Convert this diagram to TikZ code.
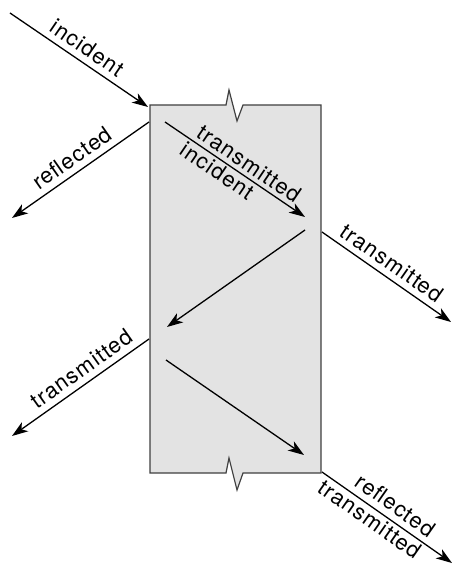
\documentclass[tikz,border=0pt]{standalone}
\usepackage{fontspec}
\setmainfont{TeX Gyre Heros}[LetterSpace=5]
\usetikzlibrary{arrows.meta}
\begin{document}
\begin{tikzpicture}[x=1pt,y=-1pt,
  ray/.style={line width=1.3pt, -{Stealth[length=16pt,width=11pt,inset=4.5pt]}},
  lbl/.style={font=\fontsize{22}{22}\selectfont, sloped, inner sep=6pt},
  slab/.style={draw=black!75, line width=1.2pt, fill=black!11, line join=miter}]
\useasboundingbox (0,0) rectangle (453,569);

% slab with break marks on the top and bottom edges
\draw[slab] (150,105) -- (226,105) -- (229,90) -- (237,121) -- (243,105) -- (321,105)
  -- (321,473) -- (243,473) -- (237,490) -- (229,458) -- (226,473) -- (150,473) -- cycle;

% end points of the rays
\coordinate (inA) at (10,13);
\coordinate (inB) at (148,107);
\coordinate (rfA) at (149,122);
\coordinate (rfB) at (12,218);
\coordinate (t1A) at (165,122);
\coordinate (t1B) at (305,217);
\coordinate (r1A) at (305,230);
\coordinate (r1B) at (167,327);
\coordinate (trA) at (322,232);
\coordinate (trB) at (451,322);
\coordinate (tlA) at (149,339);
\coordinate (tlB) at (12,436);
\coordinate (t2A) at (166,360);
\coordinate (t2B) at (304,455);
\coordinate (brA) at (322,472);
\coordinate (brB) at (452,563);

\draw[ray] (inA) -- node[lbl, above, pos=0.5] {incident} (inB);
\draw[ray] (rfA) -- node[lbl, above, pos=0.5] {reflected} (rfB);
\draw[ray] (t1A) -- node[lbl, above, pos=0.55, inner sep=4pt] {transmitted}
                    node[lbl, below, pos=0.42, inner sep=2pt] {incident} (t1B);
\draw[ray] (r1A) -- (r1B);
\draw[ray] (trA) -- node[lbl, above, pos=0.48] {transmitted} (trB);
\draw[ray] (tlA) -- node[lbl, above, pos=0.43] {transmitted} (tlB);
\draw[ray] (t2A) -- (t2B);
\draw[ray] (brA) -- node[lbl, above, pos=0.5] {reflected}
                    node[lbl, below, pos=0.42, inner sep=2pt] {transmitted} (brB);
\end{tikzpicture}
\end{document}
